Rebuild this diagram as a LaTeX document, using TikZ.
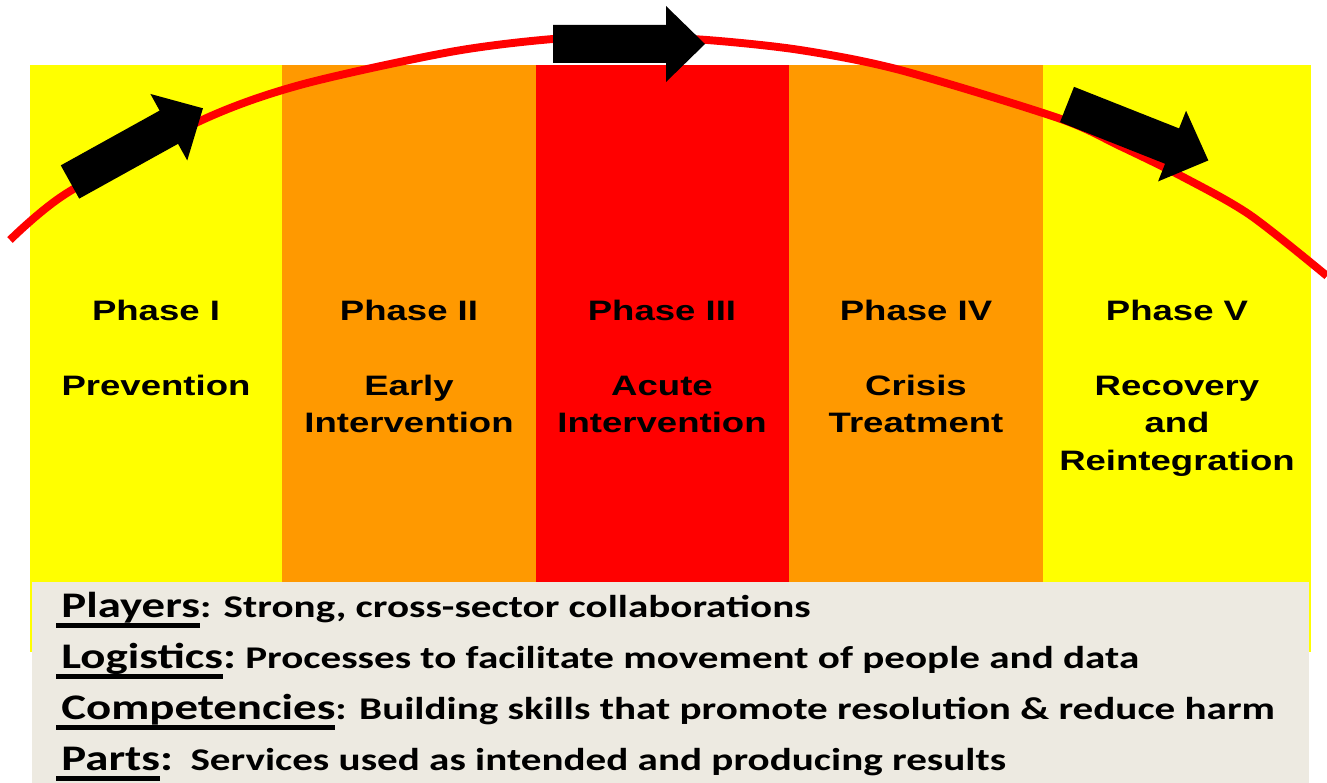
\documentclass[tikz,border=0pt]{standalone}
\usepackage{fontspec}
\newfontfamily\phasefont[FakeStretch=1.3]{Liberation Sans}
\newfontfamily\listfont[FakeStretch=1.3]{Carlito}
\definecolor{phyellow}{HTML}{FFFF00}
\definecolor{phorange}{HTML}{FF9900}
\definecolor{phred}{HTML}{FF0000}
\definecolor{boxgray}{HTML}{EDEAE1}
% underlined key word of a list line
\newcommand\ulhead[1]{{\fontsize{20.5}{24}\selectfont\setbox0=\hbox{#1}%
  \rlap{\kern-2.8pt\rule[-6pt]{\dimexpr\wd0+2.8pt\relax}{2.7pt}}\box0}}
\newcommand\bigcolon{{\fontsize{20.5}{24}\selectfont:}}

\begin{document}
\begin{tikzpicture}[x=0.02cm,y=-0.02cm,
  phase/.style={anchor=north,align=center,inner sep=0pt,
    font=\phasefont\bfseries\fontsize{16}{21.26}\selectfont},
  item/.style={anchor=base west,inner sep=0pt,
    font=\listfont\bfseries\fontsize{18}{21}\selectfont}]
\useasboundingbox (0,0) rectangle (1327,783);

\foreach \xa/\xb/\col in {30/282/phyellow,282/536/phorange,536/789/phred,789/1043/phorange,1043/1311/phyellow}
  \fill[\col] (\xa,65) rectangle (\xb,652);

\fill[boxgray] (32,582) rectangle (1309,783);

\draw[phred,line width=4.5pt] plot[smooth] coordinates {(10,240) (67,193) (200,121) (300,85)
  (450,52) (553,39) (630,37) (707,40) (800,50) (900,70) (1058,118) (1120,146) (1183,177)
  (1250,215) (1327,276)};

\foreach \px/\py/\ang in {70/182/29, 553/44/0, 1067/104.5/-21.6}
  \fill[shift={(\px,\py)},rotate=\ang]
    (0,-19) -- (113,-19) -- (113,-38) -- (152,0) -- (113,38) -- (113,19) -- (0,19) -- cycle;

\node[phase] (ph1) at (156,300) {Phase I\\[21.26pt]Prevention};
\node[phase] (ph2) at (409,300) {Phase II\\[21.26pt]Early\\Intervention};
\node[phase] (ph3) at (662,300) {Phase III\\[21.26pt]Acute\\Intervention};
\node[phase] (ph4) at (916,300) {Phase IV\\[21.26pt]Crisis\\Treatment};
\node[phase] (ph5) at (1177,300) {Phase V\\[21.26pt]Recovery\\and\\Reintegration};

\node[item] (players) at (61,617) {\ulhead{Players}: Strong, cross-sector collaborations};
\node[item] (logistics) at (61,668) {\ulhead{Logistics}\bigcolon\ Processes to facilitate movement of people and data};
\node[item] (compet) at (61,719) {\ulhead{Competencies}: Building skills that promote resolution \& reduce harm};
\node[item] (parts) at (61,770) {\ulhead{Parts}\bigcolon\hspace{10pt}Services used as intended and producing results};
\end{tikzpicture}
\end{document}
